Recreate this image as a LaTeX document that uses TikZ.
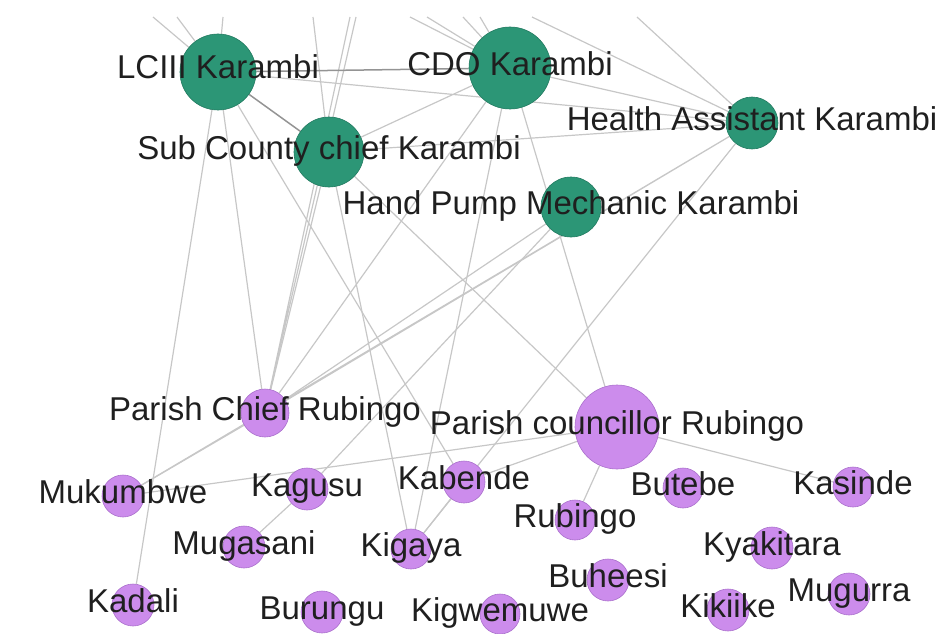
\documentclass[tikz,border=0pt]{standalone}
\usepackage{fontspec}
\setmainfont{Liberation Sans}
\usepackage{tikz}
\usetikzlibrary{backgrounds}
\definecolor{karambi}{RGB}{44,150,118}
\definecolor{karambiline}{RGB}{34,122,96}
\definecolor{rubingo}{RGB}{204,140,236}
\definecolor{rubingoline}{RGB}{170,112,204}
\tikzset{
  green node/.style={circle,fill=karambi,draw=karambiline,line width=0.6pt,inner sep=0pt,minimum size=#1},
  purple node/.style={circle,fill=rubingo,draw=rubingoline,line width=0.6pt,inner sep=0pt,minimum size=#1},
  purple node/.default=42pt,
  lbl/.style={font=\fontsize{33}{38}\selectfont,text=black!88,text height=24pt,text depth=7pt,yshift=1.5pt,inner sep=0pt},
  link/.style={draw=black!22,line width=1.2pt},
  heavy link/.style={draw=black!42,line width=1.5pt}
}

\begin{document}
\begin{tikzpicture}[x=1pt,y=-1pt]
    \useasboundingbox (0,0) rectangle (940,634);
    % sub county officials
    \node[green node=76pt,label={[lbl]center:LCIII Karambi}] (lc) at (218,72){};
    \node[green node=82pt,label={[lbl]center:CDO Karambi}] (cdo) at (510,68){};
    \node[green node=70pt,label={[lbl]center:Sub County chief Karambi}] (sc) at (329,152){};
    \node[green node=52pt,label={[lbl]center:Health Assistant Karambi}] (ha) at (752,123){};
    \node[green node=60pt,label={[lbl]center:Hand Pump Mechanic Karambi}] (hpm) at (571,207){};
    % parish and villages
    \node[purple node=48pt,label={[lbl]center:Parish Chief Rubingo}] (pch) at (265,413){};
    \node[purple node=84pt,label={[lbl]center:Parish councillor Rubingo}] (pco) at (617,427){};
    \node[purple node,label={[lbl]center:Mukumbwe}] (mukumbwe) at (123,496){};
    \node[purple node,label={[lbl]center:Kagusu}] (kagusu) at (307,489){};
    \node[purple node,label={[lbl]center:Mugasani}] (mugasani) at (244,547){};
    \node[purple node=40pt,label={[lbl]center:Kigaya}] (kigaya) at (411,549){};
    \node[purple node,label={[lbl]center:Kadali}] (kadali) at (133,605){};
    \node[purple node,label={[lbl]center:Burungu}] (burungu) at (322,612){};
    \node[purple node,label={[lbl]center:Kabende}] (kabende) at (464,482){};
    \node[purple node=40pt,label={[lbl]center:Rubingo}] (rubingo) at (575,520){};
    \node[purple node=40pt,label={[lbl]center:Kigwemuwe}] (kigwemuwe) at (500,614){};
    \node[purple node=40pt,label={[lbl]center:Butebe}] (butebe) at (683,488){};
    \node[purple node=40pt,label={[lbl]center:Kasinde}] (kasinde) at (853,487){};
    \node[purple node,label={[lbl]center:Kyakitara}] (kyakitara) at (772,548){};
    \node[purple node,label={[lbl]center:Buheesi}] (buheesi) at (608,580){};
    \node[purple node,label={[lbl]center:Kikiike}] (kikiike) at (728,610){};
    \node[purple node,label={[lbl]center:Mugurra}] (mugurra) at (849,594){};
    % ties leaving the top of the frame
    \coordinate (t1) at (153,17);
    \coordinate (t2) at (177,17);
    \coordinate (t3) at (223,17);
    \coordinate (t4) at (313,17);
    \coordinate (t5) at (350,17);
    \coordinate (t6) at (356,17);
    \coordinate (t7) at (410,17);
    \coordinate (t8) at (427,17);
    \coordinate (t9) at (463,17);
    \coordinate (t10) at (480,17);
    \coordinate (t11) at (532,17);
    \coordinate (t12) at (637,17);
    \begin{scope}[on background layer]
    \draw[link] (t1) -- (lc) (t2) -- (lc) (t3) -- (lc);
    \draw[link] (t4) -- (sc) (t5) -- (pch) (t6) -- (pch);
    \draw[link] (t7) -- (cdo) (t8) -- (cdo) (t9) -- (cdo) (t10) -- (cdo);
    \draw[link] (t11) -- (ha) (t12) -- (ha);
    \draw[heavy link] (lc) -- (cdo) (lc) -- (sc);
    \draw[link] (lc) -- (ha) (sc) -- (cdo) (sc) -- (ha) (cdo) -- (ha);
    \draw[link] (lc) -- (pch) (lc) -- (kadali) (lc) -- (kabende);
    \draw[link] (sc) -- (pch) (sc) -- (kigaya) (sc) -- (pco);
    \draw[link] (cdo) -- (pch) (cdo) -- (kigaya) (cdo) -- (pco);
    \draw[link] (hpm) -- (pch) (hpm) -- (kagusu);
    \draw[link] (ha) -- (pch) (ha) -- (mukumbwe) (ha) -- (kigaya);
    \draw[link] (pch) -- (mukumbwe) (mukumbwe) -- (pco) (kagusu) -- (mugasani);
    \draw[link] (kabende) -- (pco) (kabende) -- (kigaya);
    \draw[link] (pco) -- (rubingo) (pco) -- (kasinde);
    \end{scope}
\end{tikzpicture}
\end{document}
